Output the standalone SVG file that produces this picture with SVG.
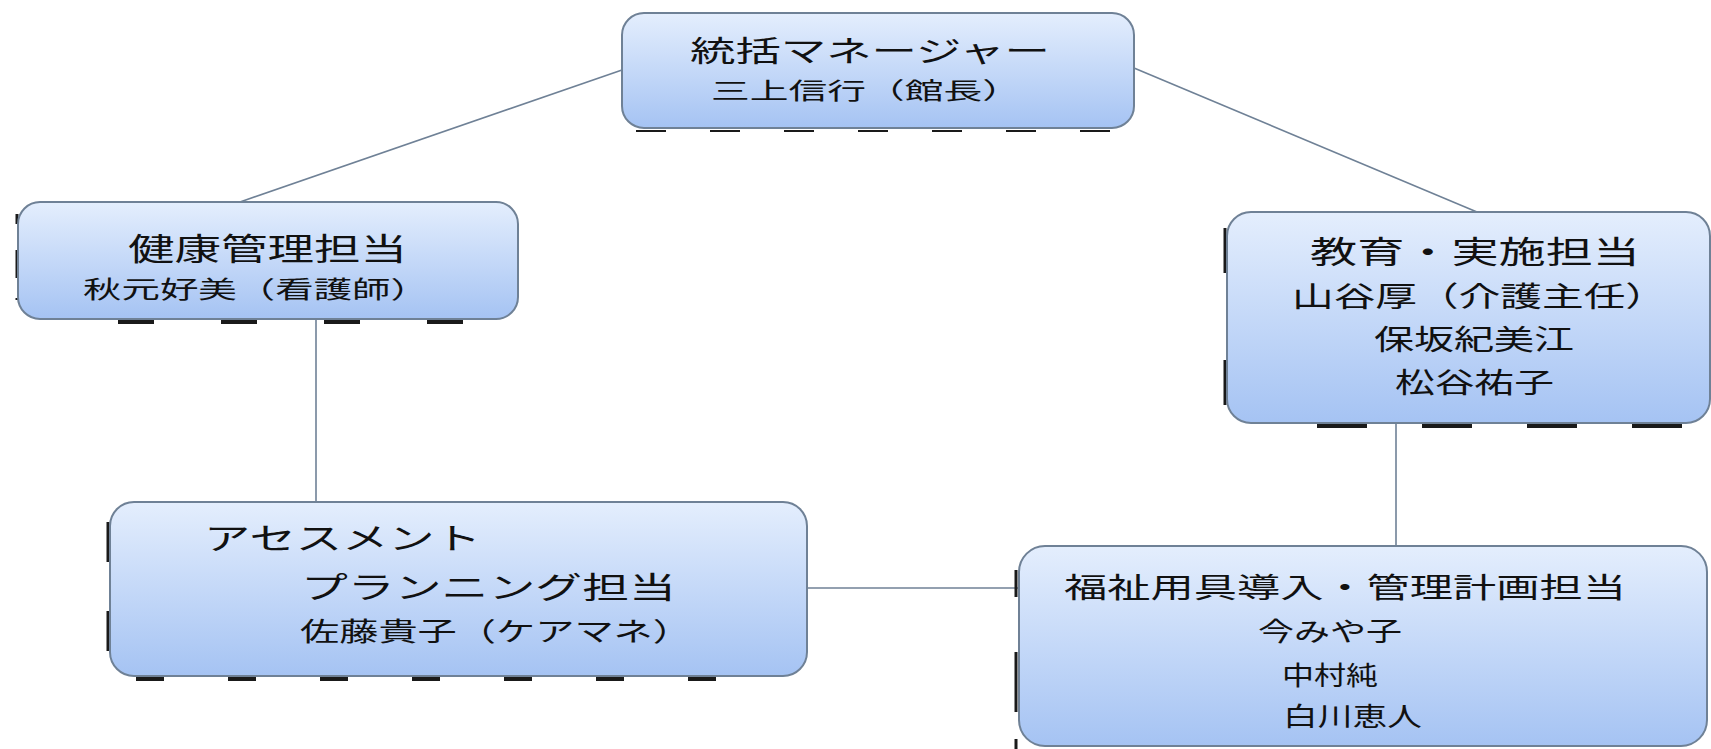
<svg xmlns="http://www.w3.org/2000/svg" width="1711" height="749" viewBox="0 0 1711 749">
  <defs>
    <linearGradient id="boxFill" x1="0" y1="0" x2="0" y2="1">
      <stop offset="0" stop-color="#e4eefd"/>
      <stop offset="1" stop-color="#a5c3f3"/>
    </linearGradient>
    <style>
      .box { fill: url(#boxFill); stroke: #6f8196; stroke-width: 2; }
      .conn { stroke: #6f8196; stroke-width: 1.6; fill: none; }
      .shd { stroke: #1a1a1a; fill: none; }
      .t { font-family: "Noto Sans CJK JP", "Noto Sans CJK SC", sans-serif; fill: #111; }
    </style>
  </defs>
  <rect width="1711" height="749" fill="#ffffff"/>

  <g id="connectors">
    <line class="conn" x1="622" y1="70" x2="240" y2="202"/>
    <line class="conn" x1="1134" y1="68" x2="1477" y2="212"/>
    <line class="conn" x1="316" y1="319" x2="316" y2="502"/>
    <line class="conn" x1="1396" y1="423" x2="1396" y2="546"/>
    <line class="conn" x1="807" y1="588" x2="1019" y2="588"/>
  </g>

  <g id="node-manager">
    <path class="shd" stroke-width="2" stroke-dasharray="30 44" d="M636 131 H1115"/>
    <rect class="box" x="622" y="13" width="512" height="115" rx="22"/>
    <text class="t" x="690" y="62" font-size="29" textLength="360" lengthAdjust="spacingAndGlyphs">統括マネージャー</text>
    <text class="t" x="711" y="99" font-size="23" textLength="310" lengthAdjust="spacingAndGlyphs">三上信行（館長）</text>
  </g>

  <g id="node-health">
    <path class="shd" stroke-width="4" stroke-dasharray="36 67" d="M118 322 H470"/>
    <path class="shd" stroke-width="3" stroke-dasharray="10 26 28 20" d="M17 214 V300"/>
    <rect class="box" x="18" y="202" width="500" height="117" rx="22"/>
    <text class="t" x="128" y="260" font-size="31" textLength="279" lengthAdjust="spacingAndGlyphs">健康管理担当</text>
    <text class="t" x="83" y="298" font-size="24" textLength="346" lengthAdjust="spacingAndGlyphs">秋元好美（看護師）</text>
  </g>

  <g id="node-education">
    <path class="shd" stroke-width="4" stroke-dasharray="50 55" d="M1317 426 H1690"/>
    <path class="shd" stroke-width="3" stroke-dasharray="45 87" d="M1225 228 V410"/>
    <rect class="box" x="1227" y="212" width="483" height="211" rx="24"/>
    <text class="t" x="1310" y="263" font-size="31" textLength="330" lengthAdjust="spacingAndGlyphs">教育・実施担当</text>
    <text class="t" x="1292" y="307" font-size="28" textLength="375" lengthAdjust="spacingAndGlyphs">山谷厚（介護主任）</text>
    <text class="t" x="1374" y="350" font-size="28" textLength="200" lengthAdjust="spacingAndGlyphs">保坂紀美江</text>
    <text class="t" x="1395" y="393" font-size="28" textLength="159" lengthAdjust="spacingAndGlyphs">松谷祐子</text>
  </g>

  <g id="node-assessment">
    <path class="shd" stroke-width="4" stroke-dasharray="28 64" d="M136 679 H730"/>
    <path class="shd" stroke-width="3" stroke-dasharray="40 49" d="M108 522 V660"/>
    <rect class="box" x="110" y="502" width="697" height="174" rx="24"/>
    <text class="t" x="204" y="549" font-size="30" textLength="277" lengthAdjust="spacingAndGlyphs">アセスメント</text>
    <text class="t" x="301" y="598" font-size="30" textLength="375" lengthAdjust="spacingAndGlyphs">プランニング担当</text>
    <text class="t" x="300" y="641" font-size="26" textLength="392" lengthAdjust="spacingAndGlyphs">佐藤貴子（ケアマネ）</text>
  </g>

  <g id="node-welfare">
    <path class="shd" stroke-width="3" stroke-dasharray="27 55 60" d="M1016 570 V749"/>
    <rect class="box" x="1019" y="546" width="688" height="200" rx="26"/>
    <text class="t" x="1064" y="598" font-size="28" textLength="562" lengthAdjust="spacingAndGlyphs">福祉用具導入・管理計画担当</text>
    <text class="t" x="1258" y="641" font-size="26" textLength="144" lengthAdjust="spacingAndGlyphs">今みや子</text>
    <text class="t" x="1282" y="685" font-size="26" textLength="96" lengthAdjust="spacingAndGlyphs">中村純</text>
    <text class="t" x="1283" y="726" font-size="26" textLength="139" lengthAdjust="spacingAndGlyphs">白川恵人</text>
  </g>
</svg>
